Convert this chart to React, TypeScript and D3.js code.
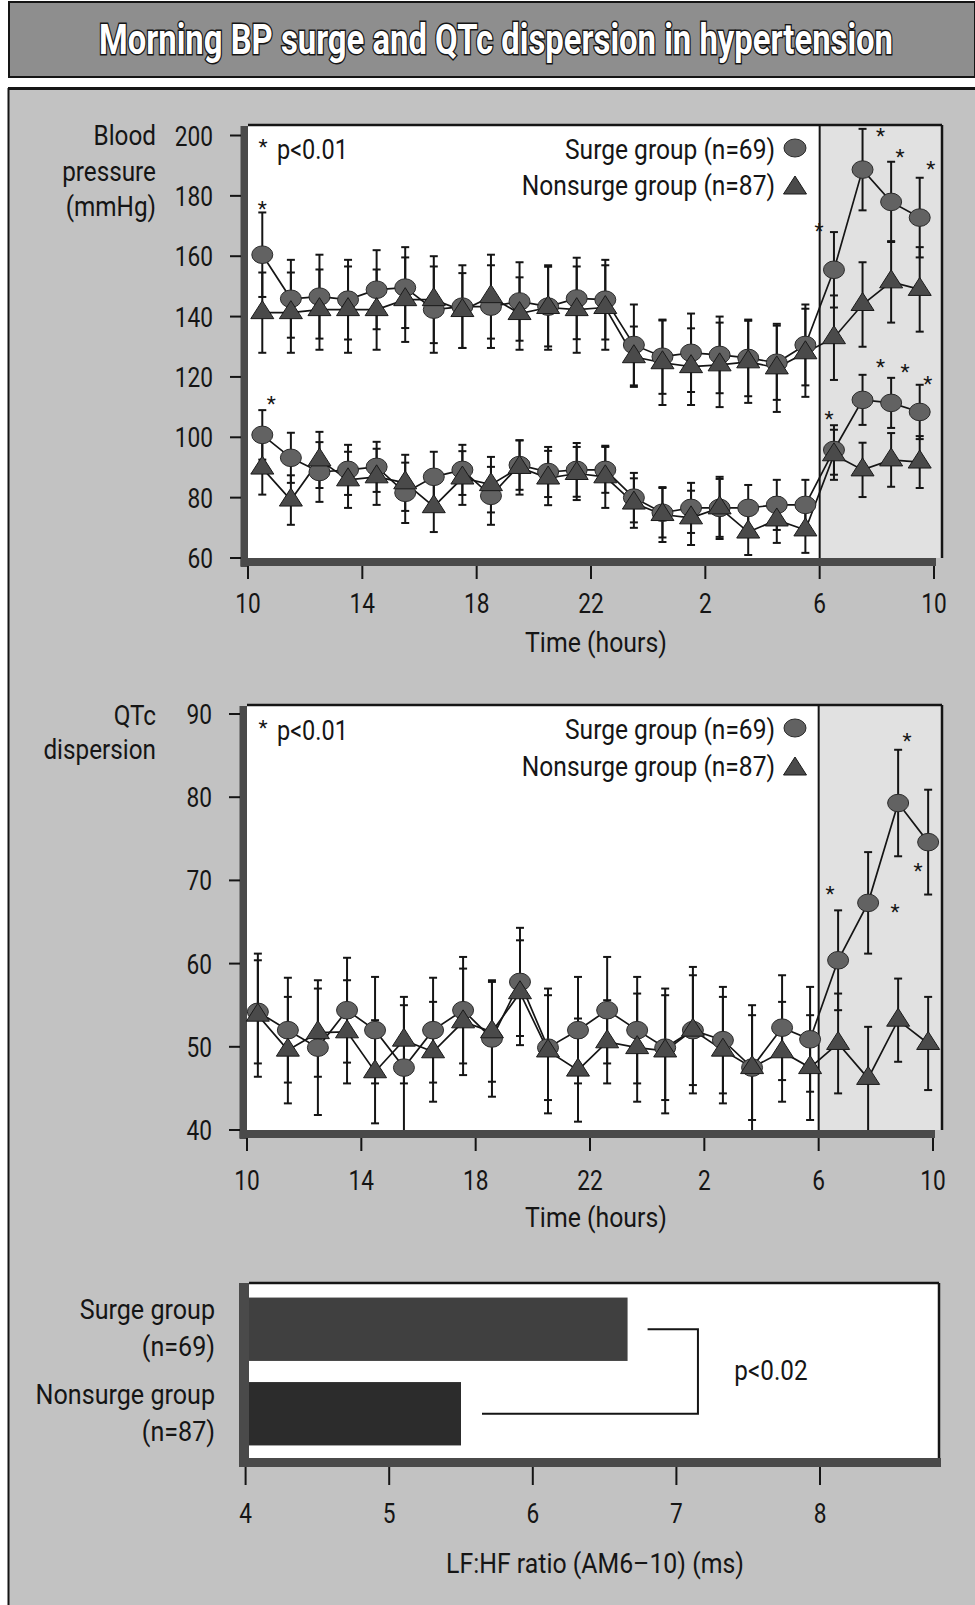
import React, { useLayoutEffect, useRef, useState } from "react";
import * as d3 from "d3";

// ---------- DATA ----------
const hoursBP = [0.5, 1.5, 2.5, 3.5, 4.5, 5.5, 6.5, 7.5, 8.5, 9.5, 10.5, 11.5, 12.5, 13.5, 14.5, 15.5, 16.5, 17.5, 18.5, 19.5, 20.5, 21.5, 22.5, 23.5];
const surgeSys = [160.5, 145.9, 146.6, 145.6, 148.9, 149.6, 142.3, 143.3, 143.3, 145, 143.3, 146, 145.6, 130.6, 126.7, 128, 127.3, 126.3, 124.7, 130.6, 155.5, 188.7, 178, 172.8];
const surgeSysSD = [14, 12.9, 13.9, 13.2, 13.1, 13.4, 14.3, 13.7, 13.7, 13, 13.2, 13.5, 13.2, 13.4, 12.3, 13, 12.7, 12.7, 12.3, 13.4, 12.5, 13.5, 13.3, 13.2];
const nonSys = [141.3, 141.3, 142.3, 142.3, 142.3, 145.6, 145.6, 142, 146.6, 141, 143, 142.3, 143, 126.7, 124.7, 123.4, 124, 125, 123, 128, 133, 144, 151.5, 149];
const nonSysSD = [13.3, 13.3, 13.3, 14.3, 13.3, 14, 14.4, 12.4, 13.9, 12, 14, 14.3, 14, 10, 14, 12.7, 14, 13.6, 14.6, 14.6, 14, 14, 13.5, 14];
const surgeDia = [100.8, 93.2, 88.5, 89.2, 90.2, 81.6, 86.9, 89.2, 80.6, 90.8, 88.5, 89.2, 89.2, 80, 75, 76.6, 76.6, 76.6, 77.6, 77.6, 95.8, 112.4, 111.4, 108.4];
const surgeDiaSD = [8.2, 8.3, 9.9, 8.3, 8.3, 10, 8.3, 8.3, 9.6, 8.2, 8.3, 8.9, 7.6, 8.2, 8.2, 8.3, 10.3, 7.6, 8.3, 8.3, 8.2, 8.3, 8.3, 9];
const nonDia = [89.8, 79.2, 92.5, 85.9, 86.9, 84.9, 77, 86.5, 84.3, 90, 86.5, 88, 86.9, 78.2, 74.4, 73.3, 76.6, 68.6, 72.6, 69.3, 94.2, 89.2, 92.5, 91.8];
const nonDiaSD = [8.8, 8.2, 9.3, 9.3, 9.3, 9.3, 8.4, 8.9, 9.2, 9, 9, 8.8, 10.3, 8.2, 9.1, 9, 9.6, 7.6, 7.6, 7.6, 8.3, 9, 8.9, 8.6];

const hoursQTc = [0.38, 1.43, 2.48, 3.5, 4.48, 5.49, 6.51, 7.56, 8.57, 9.55, 10.53, 11.58, 12.6, 13.65, 14.63, 15.6, 16.65, 17.67, 18.72, 19.7, 20.68, 21.73, 22.78, 23.83];
const surgeQTc = [54.2, 52, 49.9, 54.4, 52, 47.5, 52, 54.4, 51, 57.8, 49.9, 52, 54.4, 52, 49.9, 52, 50.8, 47.5, 52.3, 50.9, 60.4, 67.3, 79.3, 74.6];
const surgeQTcSD = [6.2, 6.3, 8.1, 6.3, 6.4, 7.5, 6.3, 6.4, 7, 6.5, 6.3, 6.4, 6.4, 6.4, 6.3, 6.6, 6.4, 6.3, 6.3, 6.3, 6, 6.1, 6.4, 6.3];
const nonQTc = [53.8, 49.6, 51.7, 51.8, 47, 50.8, 49.4, 53, 51.8, 56.5, 49.5, 47.2, 50.6, 49.9, 49.5, 52, 49.6, 47.5, 49.4, 47.5, 50.4, 46.2, 53.2, 50.4];
const nonQTcSD = [7.4, 6.4, 5.3, 6.2, 6.2, 5.2, 6, 6.4, 6, 6.3, 7.5, 6.2, 5, 6.5, 7.5, 7.6, 6.4, 7.5, 6, 6.3, 6, 6.2, 5, 5.6];

const bpTicks = [60, 80, 100, 120, 140, 160, 180, 200];
const qtcTicks = [40, 50, 60, 70, 80, 90];
const timeTickHours = [0, 4, 8, 12, 16, 20, 24];
const timeTickLabels = ["10", "14", "18", "22", "2", "6", "10"];
const surgeStartHour = 20;

// significance asterisks: point index, value where drawn, horizontal nudge
const sysStars = [{ i: 0, v: 177, dx: 0 }, { i: 20, v: 169.8, dx: -15 }, { i: 21, v: 201, dx: 18 }, { i: 22, v: 194.3, dx: 9 }, { i: 23, v: 190.3, dx: 11 }];
const diaStars = [{ i: 0, v: 112.4, dx: 9 }, { i: 20, v: 107.4, dx: -5 }, { i: 21, v: 124.7, dx: 18 }, { i: 22, v: 123, dx: 14 }, { i: 23, v: 119, dx: 8 }];
const qtcStars = [{ i: 20, v: 68.8, dx: -8 }, { i: 21, v: 66.7, dx: 27 }, { i: 22, v: 87.2, dx: 9 }, { i: 23, v: 71.6, dx: -10 }];

const barGroups = ["Surge", "Nonsurge"];
const barLabels = [["Surge group", "(n=69)"], ["Nonsurge group", "(n=87)"]];
const lfhfValues = [6.66, 5.5];
const lfhfTicks = [4, 5, 6, 7, 8];

const TITLE = "Morning BP surge and QTc dispersion in hypertension";

// ---------- STYLE ----------
const FONT = "Roboto, 'Liberation Sans', Arial, sans-serif";
const INK = "#151515";
const PANEL = "#c2c2c2";
const HEADER = "#8e8e8e";
const AXISBAR = "#4a4a4a";
const SHADE = "#e1e1e1";
const CIRCLE_FILL = "#626262";
const TRI_FILL = "#4a4a4a";

type TP = { x: number; y: number; children: React.ReactNode; anchor?: "start" | "middle" | "end"; size?: number; sx?: number };
function T({ x, y, children, anchor = "start", size = 27, sx = 0.92 }: TP) {
  return (
    <text transform={`translate(${x},${y}) scale(${sx},1)`} textAnchor={anchor} fontSize={size} fontFamily={FONT} fill={INK}>
      {children}
    </text>
  );
}

function Star({ x, y }: { x: number; y: number }) {
  return (
    <text x={x} y={y + 11} textAnchor="middle" fontSize={21} fontFamily={FONT} fill={INK}>
      *
    </text>
  );
}

const triPath = (cx: number, cy: number, w = 23, h = 18) =>
  `M${cx},${cy - (h * 2) / 3} L${cx + w / 2},${cy + h / 3} L${cx - w / 2},${cy + h / 3} Z`;

type Series = { xs: number[]; vals: number[]; sds: number[]; kind: "circle" | "tri" };

function TimePanel(props: {
  series: Series[];
  xScale: d3.ScaleLinear<number, number>;
  yScale: d3.ScaleLinear<number, number>;
  yTicks: number[];
  boxTop: number;
  stars: { s: Series; list: { i: number; v: number; dx: number }[] }[];
  titleLines: string[];
  titleBaselines: number[];
  legendY: [number, number];
  pY: number;
  xLabelBaseline: number;
  xTitleBaseline: number;
}) {
  const { series, xScale, yScale, yTicks, boxTop, stars } = props;
  const x0 = xScale(0);
  const bottom = yScale(yScale.domain()[0]);
  const boxRight = 942;
  const shadeX = xScale(surgeStartHour);
  const line = d3.line<number>();
  return (
    <g>
      <rect x={x0} y={boxTop} width={boxRight - x0} height={bottom - boxTop} fill="#ffffff" />
      <rect x={shadeX} y={boxTop} width={boxRight - shadeX} height={bottom - boxTop} fill={SHADE} />
      <line x1={shadeX} x2={shadeX} y1={boxTop} y2={bottom} stroke={INK} strokeWidth={2} />
      <line x1={x0} x2={boxRight} y1={boxTop} y2={boxTop} stroke={INK} strokeWidth={2.5} />
      <line x1={boxRight} x2={boxRight} y1={boxTop} y2={bottom} stroke={INK} strokeWidth={2.5} />
      <rect x={x0 - 7.5} y={boxTop + 1} width={7.5} height={bottom - boxTop + 8} fill={AXISBAR} />
      <rect x={x0 - 7.5} y={bottom} width={xScale(24) + 2 - (x0 - 7.5)} height={8} fill={AXISBAR} />
      {yTicks.map((t) => (
        <g key={"yt" + t}>
          <line x1={x0 - 18} x2={x0 - 7} y1={yScale(t)} y2={yScale(t)} stroke={INK} strokeWidth={2} />
          <T x={x0 - 35} y={yScale(t) + 10} anchor="end" sx={0.84}>
            {t}
          </T>
        </g>
      ))}
      {timeTickHours.map((h, k) => (
        <g key={"xt" + k}>
          <line x1={xScale(h)} x2={xScale(h)} y1={bottom + 8} y2={bottom + 21} stroke={INK} strokeWidth={2} />
          <T x={xScale(h)} y={props.xLabelBaseline} anchor="middle" sx={0.84}>
            {timeTickLabels[k]}
          </T>
        </g>
      ))}
      <T x={596} y={props.xTitleBaseline} anchor="middle" sx={0.92}>
        Time (hours)
      </T>
      {props.titleLines.map((s, k) => (
        <T key={"yl" + k} x={156} y={props.titleBaselines[k]} anchor="end" sx={0.9}>
          {s}
        </T>
      ))}
      <Star x={263} y={props.pY - 16} />
      <T x={277} y={props.pY} sx={0.87}>
        p&lt;0.01
      </T>
      <T x={775} y={props.legendY[0] + 11} anchor="end" sx={0.91}>
        Surge group (n=69)
      </T>
      <T x={775} y={props.legendY[1] + 9} anchor="end" sx={0.91}>
        Nonsurge group (n=87)
      </T>
      <ellipse cx={795} cy={props.legendY[0]} rx={11} ry={9} fill={CIRCLE_FILL} stroke="#2a2a2a" strokeWidth={1} />
      <path d={triPath(795, props.legendY[1] + 2)} fill={TRI_FILL} stroke="#1a1a1a" strokeWidth={1} />
      {series.map((s, si) =>
        s.vals.map((v, i) => {
          const cx = xScale(s.xs[i]);
          const yt = yScale(v + s.sds[i]);
          const yb = Math.min(yScale(v - s.sds[i]), bottom);
          return (
            <g key={`eb${si}-${i}`} stroke={INK} strokeWidth={2}>
              <line x1={cx} x2={cx} y1={yt} y2={yb} />
              <line x1={cx - 4} x2={cx + 4} y1={yt} y2={yt} />
              {yb < bottom && <line x1={cx - 4} x2={cx + 4} y1={yb} y2={yb} />}
            </g>
          );
        })
      )}
      {series.map((s, si) => (
        <path
          key={"ln" + si}
          d={line(s.vals.map((v, i) => [xScale(s.xs[i]), yScale(v)] as [number, number])) || ""}
          fill="none"
          stroke={INK}
          strokeWidth={1.7}
        />
      ))}
      {series
        .filter((s) => s.kind === "circle")
        .map((s, si) =>
          s.vals.map((v, i) => (
            <ellipse key={`c${si}-${i}`} cx={xScale(s.xs[i])} cy={yScale(v)} rx={10.5} ry={8.8} fill={CIRCLE_FILL} stroke="#2a2a2a" strokeWidth={1} />
          ))
        )}
      {series
        .filter((s) => s.kind === "tri")
        .map((s, si) =>
          s.vals.map((v, i) => (
            <path key={`t${si}-${i}`} d={triPath(xScale(s.xs[i]), yScale(v))} fill={TRI_FILL} stroke="#1a1a1a" strokeWidth={1} />
          ))
        )}
      {stars.map((g, gi) => g.list.map((st, k) => <Star key={`s${gi}-${k}`} x={xScale(g.s.xs[st.i]) + st.dx} y={yScale(st.v)} />))}
    </g>
  );
}

export default function App() {
  const W = 975;
  const H = 1605;
  const titleRef = useRef<SVGTextElement>(null);
  const [titleSx, setTitleSx] = useState(0.72);

  useLayoutEffect(() => {
    const measure = () => {
      const el = titleRef.current;
      if (!el) return;
      const w = el.getComputedTextLength();
      if (w > 0) setTitleSx(794 / w);
    };
    measure();
    if ((document as any).fonts && (document as any).fonts.ready) {
      (document as any).fonts.ready.then(measure);
    }
  }, []);

  const xBP = d3.scaleLinear().domain([0, 24]).range([248, 934]);
  const yBP = d3.scaleLinear().domain([60, 200]).range([558, 135.5]);
  const xQ = d3.scaleLinear().domain([0, 24]).range([247, 933]);
  const yQ = d3.scaleLinear().domain([40, 90]).range([1130, 714]);

  const sSys: Series = { xs: hoursBP, vals: surgeSys, sds: surgeSysSD, kind: "circle" };
  const nSys: Series = { xs: hoursBP, vals: nonSys, sds: nonSysSD, kind: "tri" };
  const sDia: Series = { xs: hoursBP, vals: surgeDia, sds: surgeDiaSD, kind: "circle" };
  const nDia: Series = { xs: hoursBP, vals: nonDia, sds: nonDiaSD, kind: "tri" };
  const sQ: Series = { xs: hoursQTc, vals: surgeQTc, sds: surgeQTcSD, kind: "circle" };
  const nQ: Series = { xs: hoursQTc, vals: nonQTc, sds: nonQTcSD, kind: "tri" };

  const xBar = d3.scaleLinear().domain([4, 8]).range([245.6, 820]);
  const yBar = d3.scaleBand<string>().domain(barGroups).range([1287, 1456]).paddingInner(0.25).paddingOuter(0.125);
  const barTop = 1283;
  const barBottom = 1458;
  const barRight = 939;
  const barLeft = 249;
  const c0 = (yBar(barGroups[0]) || 0) + yBar.bandwidth() / 2;
  const c1 = (yBar(barGroups[1]) || 0) + yBar.bandwidth() / 2;
  const bracketX = xBar(7.15);

  return (
    <svg width={W} height={H} viewBox={`0 0 ${W} ${H}`} style={{ position: "absolute", left: 0, top: 0, display: "block" }}>
      <rect x={0} y={0} width={W} height={H} fill="#ffffff" />
      <rect x={9} y={2} width={W - 9} height={75} fill={HEADER} stroke={INK} strokeWidth={2} />
      <text
        ref={titleRef}
        transform={`translate(496,54) scale(${titleSx},1)`}
        textAnchor="middle"
        fontFamily={FONT}
        fontWeight={700}
        fontSize={42}
        fill="#ffffff"
        stroke={INK}
        strokeWidth={3}
        paintOrder="stroke"
      >
        {TITLE}
      </text>
      <rect x={8} y={88} width={W - 8} height={H - 88} fill={PANEL} />
      <line x1={8} x2={W} y1={88.5} y2={88.5} stroke={INK} strokeWidth={3} />
      <line x1={8.5} x2={8.5} y1={88} y2={H} stroke={INK} strokeWidth={2} />

      <TimePanel
        series={[sSys, nSys, sDia, nDia]}
        xScale={xBP}
        yScale={yBP}
        yTicks={bpTicks}
        boxTop={125}
        stars={[
          { s: sSys, list: sysStars },
          { s: sDia, list: diaStars },
        ]}
        titleLines={["Blood", "pressure", "(mmHg)"]}
        titleBaselines={[145, 181, 216]}
        legendY={[148, 186]}
        pY={159}
        xLabelBaseline={613}
        xTitleBaseline={652}
      />

      <TimePanel
        series={[sQ, nQ]}
        xScale={xQ}
        yScale={yQ}
        yTicks={qtcTicks}
        boxTop={705}
        stars={[{ s: sQ, list: qtcStars }]}
        titleLines={["QTc", "dispersion"]}
        titleBaselines={[725, 759]}
        legendY={[728, 767]}
        pY={740}
        xLabelBaseline={1190}
        xTitleBaseline={1227}
      />

      <rect x={barLeft} y={barTop} width={barRight - barLeft} height={barBottom - barTop} fill="#ffffff" />
      <line x1={barLeft} x2={barRight} y1={barTop} y2={barTop} stroke={INK} strokeWidth={2.5} />
      <line x1={barRight} x2={barRight} y1={barTop} y2={barBottom} stroke={INK} strokeWidth={2.5} />
      <rect x={239} y={barTop} width={10} height={barBottom - barTop + 9} fill={AXISBAR} />
      <rect x={239} y={barBottom} width={barRight + 2 - 239} height={9} fill={AXISBAR} />
      {barGroups.map((g, k) => (
        <rect
          key={"bar" + g}
          x={barLeft}
          y={yBar(g) || 0}
          width={xBar(lfhfValues[k]) - barLeft}
          height={yBar.bandwidth()}
          fill={k === 0 ? "#404040" : "#2c2c2c"}
        />
      ))}
      {barGroups.map((g, k) => {
        const c = (yBar(g) || 0) + yBar.bandwidth() / 2;
        return (
          <g key={"bl" + g}>
            <T x={215} y={c - 10} anchor="end" sx={0.93}>
              {barLabels[k][0]}
            </T>
            <T x={215} y={c + 27} anchor="end" sx={0.93}>
              {barLabels[k][1]}
            </T>
          </g>
        );
      })}
      <path
        d={`M${xBar(lfhfValues[0]) + 20},${c0} H${bracketX} V${c1} H${xBar(lfhfValues[1]) + 21}`}
        fill="none"
        stroke={INK}
        strokeWidth={2}
      />
      <T x={771} y={1380} anchor="middle" sx={0.9}>
        p&lt;0.02
      </T>
      {lfhfTicks.map((t) => (
        <g key={"bt" + t}>
          <line x1={xBar(t)} x2={xBar(t)} y1={barBottom + 9} y2={barBottom + 27} stroke={INK} strokeWidth={2} />
          <T x={xBar(t)} y={1523} anchor="middle" sx={0.84}>
            {t}
          </T>
        </g>
      ))}
      <T x={595} y={1573} anchor="middle" sx={0.92}>
        LF:HF ratio (AM6–10) (ms)
      </T>
    </svg>
  );
}
